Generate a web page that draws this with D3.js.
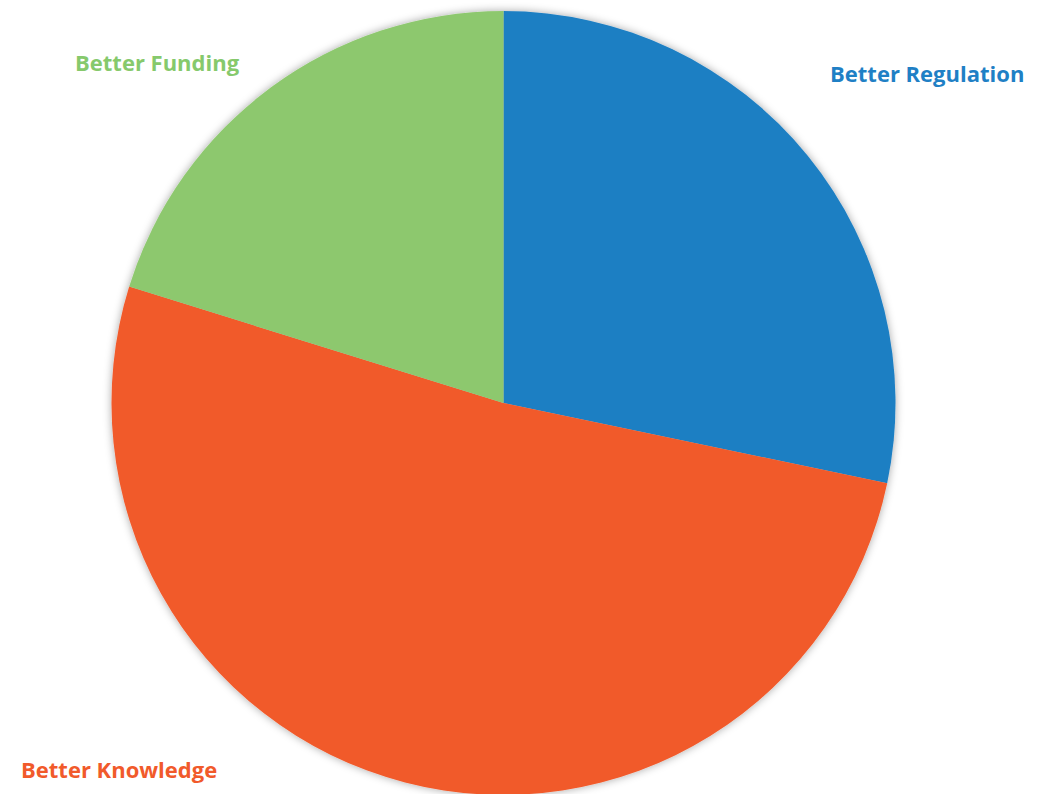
<!DOCTYPE html>
<html>
<head>
<meta charset="utf-8">
<script src="https://cdn.jsdelivr.net/npm/d3@7"></script>
<style>
  html, body { margin: 0; padding: 0; background: #fff; }
  svg { display: block; }
  .slice-label { font-family: "Open Sans", Lato, sans-serif; font-weight: 700; font-size: 22px; }
</style>
</head>
<body>
<svg id="chart" width="1046" height="794"></svg>
<script>
// Survey answers: what would help most
const categories = ["Better Regulation", "Better Knowledge", "Better Funding"];
const values = [28, 51, 20];
const colors = ["#1e7fc3", "#f15a2b", "#8dc86e"];
const labelColors = ["#1f80c5", "#f15a2b", "#86c96c"];

const width = 1046, height = 794;
const cx = 503.5, cy = 403, radius = 392;

const svg = d3.select("#chart");

const defs = svg.append("defs");
const shadow = defs.append("filter")
  .attr("id", "pieShadow")
  .attr("x", "-10%").attr("y", "-10%")
  .attr("width", "120%").attr("height", "120%");
shadow.append("feDropShadow")
  .attr("dx", 0).attr("dy", 0)
  .attr("stdDeviation", 4)
  .attr("flood-color", "#000")
  .attr("flood-opacity", 0.35);

const data = categories.map((c, i) => ({ category: c, value: values[i], color: colors[i], labelColor: labelColors[i] }));

const pie = d3.pie().sort(null).value(d => d.value);
const arc = d3.arc().innerRadius(0).outerRadius(radius);

const g = svg.append("g").attr("transform", `translate(${cx},${cy})`);

g.append("g")
  .attr("filter", "url(#pieShadow)")
  .selectAll("path")
  .data(pie(data))
  .join("path")
  .attr("d", arc)
  .attr("fill", d => d.data.color);

// Label placements (outside the pie, Excel style)
const labelPos = {
  "Better Regulation": { x: 830, y: 82, anchor: "start" },
  "Better Knowledge": { x: 21, y: 778, anchor: "start" },
  "Better Funding": { x: 75, y: 71, anchor: "start" }
};

svg.append("g")
  .selectAll("text")
  .data(data)
  .join("text")
  .attr("class", "slice-label")
  .attr("x", d => labelPos[d.category].x)
  .attr("y", d => labelPos[d.category].y)
  .attr("text-anchor", d => labelPos[d.category].anchor)
  .attr("fill", d => d.labelColor)
  .text(d => d.category);
</script>
</body>
</html>
